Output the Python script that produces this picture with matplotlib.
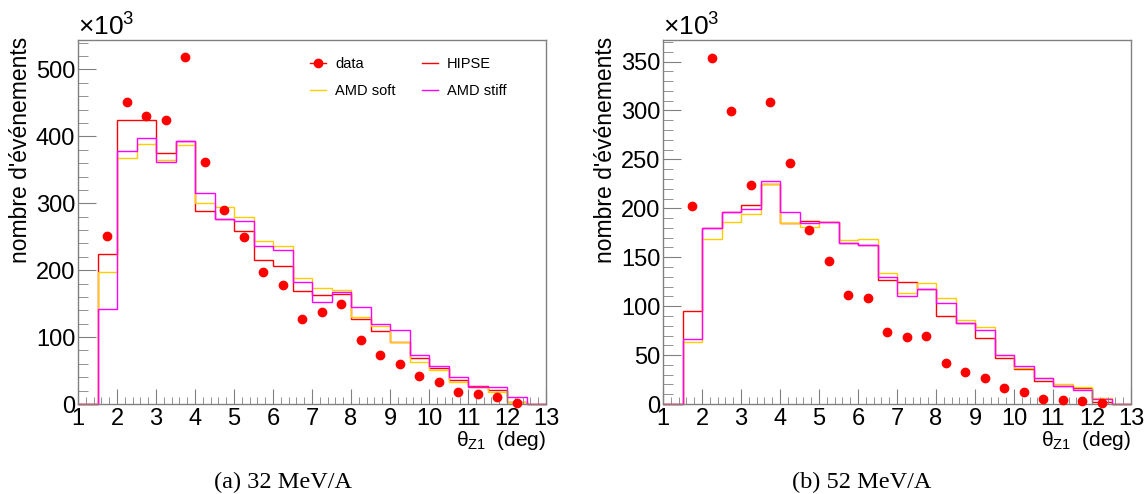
#!/usr/bin/env python3

import matplotlib

matplotlib.use("Agg")

import matplotlib.pyplot as plt
import numpy as np
from matplotlib.lines import Line2D
from matplotlib.ticker import MultipleLocator

# theta_Z1 bins (deg), 0.5 deg wide from 1 to 13
BIN_EDGES = np.linspace(1.0, 13.0, 25)

# counts in units of 10^3, 32 MeV/A
HIPSE_32 = [0, 224, 424, 425, 375, 393, 289, 277, 258, 215, 206, 169,
            163, 165, 127, 109, 93, 69, 54, 36, 27, 21, 3, 0]
SOFT_32 = [0, 197, 367, 388, 364, 387, 301, 294, 279, 243, 236, 188,
           174, 171, 130, 116, 93, 63, 51, 33, 25, 18, 3, 0]
STIFF_32 = [0, 142, 378, 397, 362, 393, 315, 277, 273, 236, 230, 182,
            153, 168, 145, 119, 110, 73, 57, 40, 26, 25, 10, 0]
DATA_32 = [251, 452, 431, 425, 518, 361, 290, 249, 197, 178, 127, 138,
           150, 96, 73, 60, 42, 33, 18, 15, 10, 2]

# counts in units of 10^3, 52 MeV/A
HIPSE_52 = [0, 95, 180, 196, 203, 225, 185, 187, 186, 165, 163, 127,
            125, 118, 90, 83, 67, 47, 36, 24, 18, 16, 2, 0]
SOFT_52 = [0, 63, 169, 186, 194, 225, 185, 181, 186, 168, 169, 134,
           113, 124, 108, 86, 79, 50, 37, 27, 20, 17, 6, 0]
STIFF_52 = [0, 66, 180, 196, 199, 228, 196, 185, 186, 165, 163, 130,
            110, 118, 103, 83, 76, 50, 39, 27, 18, 14, 5, 0]
DATA_52 = [202, 354, 299, 224, 309, 246, 178, 146, 111, 108, 74, 68,
           69, 42, 33, 27, 16, 12, 5, 4, 3, 1]

CAPTIONS = ["(a) 32 MeV/A", "(b) 52 MeV/A"]
Y_MAX = [544, 372]
Y_MAJOR = [100, 50]

RED = "#ff0000"
GOLD = "#ffcc00"
MAGENTA = "#ff00ff"
AXIS_GRAY = "#808080"
SANS = "Liberation Sans"

plt.rcParams["font.family"] = [SANS, "DejaVu Sans"]
plt.rcParams["mathtext.fontset"] = "custom"
plt.rcParams["mathtext.rm"] = SANS
plt.rcParams["mathtext.it"] = SANS
plt.rcParams["mathtext.sf"] = SANS


def DrawPanel(ax, hipse, soft, stiff, data, y_max, y_major):
    centers = 0.5 * (BIN_EDGES[1:] + BIN_EDGES[:-1])
    data_x = centers[1:1 + len(data)]

    ax.stairs(hipse, BIN_EDGES, color=RED, linewidth=1.0, clip_on=False)
    ax.stairs(soft, BIN_EDGES, color=GOLD, linewidth=1.0, clip_on=False)
    ax.stairs(stiff, BIN_EDGES, color=MAGENTA, linewidth=1.0, clip_on=False)
    ax.plot(data_x, data, linestyle="none", marker="o", markersize=6,
            color=RED, zorder=5, clip_on=False)

    ax.set_xlim(1, 13)
    ax.set_ylim(0, y_max)
    ax.xaxis.set_major_locator(MultipleLocator(1))
    ax.xaxis.set_minor_locator(MultipleLocator(0.2))
    ax.yaxis.set_major_locator(MultipleLocator(y_major))
    ax.yaxis.set_minor_locator(MultipleLocator(y_major / 5))

    for spine in ax.spines.values():
        spine.set_color(AXIS_GRAY)
        spine.set_linewidth(1.0)
    ax.tick_params(which="both", direction="in", color=AXIS_GRAY,
                   labelsize=17, top=False, right=False)
    ax.tick_params(axis="x", which="major", length=11, pad=3)
    ax.tick_params(axis="x", which="minor", length=5)
    ax.tick_params(axis="y", which="major", length=13, pad=2)
    ax.tick_params(axis="y", which="minor", length=7)

    ax.text(0.0, 0.997, r"$\times\mathrm{10}^{\mathrm{3}}$",
            transform=ax.transAxes, ha="left", va="bottom", fontsize=19)
    ax.text(1.0, -0.1, r"$\theta_{\mathrm{Z1}}$  (deg)",
            transform=ax.transAxes, ha="right", va="center", fontsize=15)


def Main() -> None:
    fig = plt.figure(figsize=(11.46, 4.94), dpi=100)
    ax_left = fig.add_axes([78 / 1146, 90 / 494, 468 / 1146, 364 / 494])
    ax_right = fig.add_axes([663 / 1146, 90 / 494, 468 / 1146, 364 / 494])

    DrawPanel(ax_left, HIPSE_32, SOFT_32, STIFF_32, DATA_32,
              Y_MAX[0], Y_MAJOR[0])
    DrawPanel(ax_right, HIPSE_52, SOFT_52, STIFF_52, DATA_52,
              Y_MAX[1], Y_MAJOR[1])

    for x_px in (21, 606):
        fig.text(x_px / 1146, 1 - 37 / 494, "nombre d'événements",
                 rotation=90, ha="center", va="top", fontsize=16.5)

    for x_px, caption in zip((283, 862), CAPTIONS):
        fig.text(x_px / 1146, 1 - 482 / 494, caption, ha="center",
                 va="center", fontsize=17.5, family="Liberation Serif")

    handles = [
        Line2D([], [], color=RED, marker="o", markersize=6, linewidth=1.0),
        Line2D([], [], color=GOLD, linewidth=1.0),
        Line2D([], [], color=RED, linewidth=1.0),
        Line2D([], [], color=MAGENTA, linewidth=1.0),
    ]
    labels = ["data", "AMD soft", "HIPSE", "AMD stiff"]
    ax_left.legend(handles, labels, ncol=2, loc="upper left",
                   bbox_to_anchor=(0.496, 0.953), frameon=False,
                   fontsize=10.5, handlelength=1.1, handletextpad=0.6,
                   labelspacing=0.9, columnspacing=1.85, borderpad=0,
                   borderaxespad=0)

    fig.savefig("out.png", dpi=100)
    plt.close(fig)


if __name__ == "__main__":
    Main()
